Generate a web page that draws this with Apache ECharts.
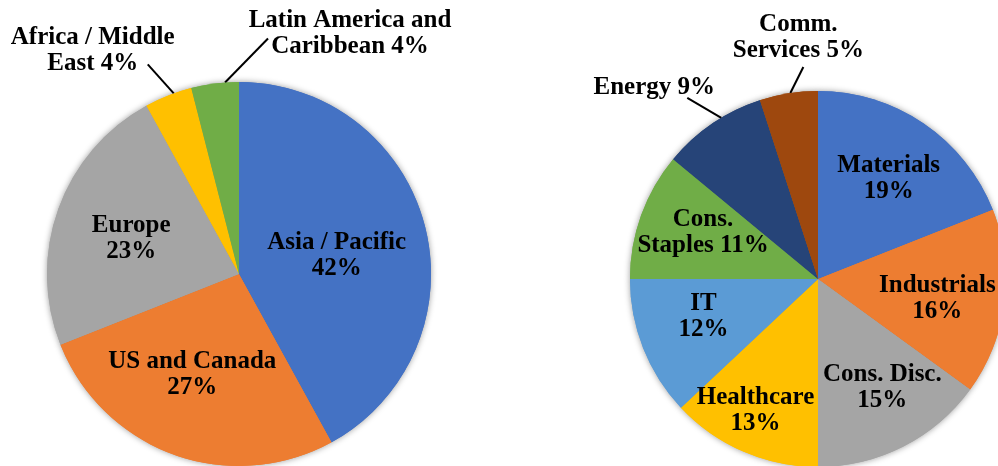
<!DOCTYPE html>
<html>
<head>
<meta charset="utf-8">
<script src="https://cdn.jsdelivr.net/npm/echarts@6/dist/echarts.min.js"></script>
<style>
  html, body { margin: 0; padding: 0; background: #ffffff; }
  #chart { width: 998px; height: 466px; }
</style>
</head>
<body>
<div id="chart"></div>
<script>
// ---- Data ----
// Regional split (left pie), percent
const regionNames = ['Asia / Pacific', 'US and Canada', 'Europe', 'Africa / Middle East', 'Latin America and Caribbean'];
const regionShares = [42, 27, 23, 4, 4];

// Sector split (right pie), percent
const sectorNames = ['Materials', 'Industrials', 'Cons. Disc.', 'Healthcare', 'IT', 'Cons. Staples', 'Energy', 'Comm. Services'];
const sectorShares = [19, 16, 15, 13, 12, 11, 9, 5];

// ---- Styling ----
const regionColors = ['#4472C4', '#ED7D31', '#A5A5A5', '#FFC000', '#70AD47'];
const sectorColors = ['#4472C4', '#ED7D31', '#A5A5A5', '#FFC000', '#5B9BD5', '#70AD47', '#264478', '#9E480E'];

const leftPie = { cx: 239, cy: 274, r: 192 };
const rightPie = { cx: 818, cy: 279, r: 188 };

// Label placement per slice.
// words: how many words of the name go on the first line (undefined = name / value on two lines, 0 = one line)
// inside labels: k = fraction of radius along the slice bisector, nudge = small pixel shift
// outside labels: at = angular position of the leader line start within the slice,
//                 line = leader line vector, text = offset of the text centre from the line end
const regionLabelPlacement = [
  { k: 0.52, nudge: [1, 6] },
  { k: 0.58, nudge: [-9, -4] },
  { k: 0.58, nudge: [-3, 2] },
  { words: 3, at: 0.62, line: [-26, -29], text: [-55, -14] },
  { words: 3, at: 0.71, line: [43, -44], text: [82, -5] }
];
const sectorLabelPlacement = [
  { k: 0.65, nudge: [2, 1] },
  { k: 0.64, nudge: [0, 4] },
  { k: 0.66, nudge: [8, -2] },
  { k: 0.77, nudge: [-5, -1] },
  { k: 0.65, nudge: [-1, -7] },
  { k: 0.65, nudge: [0, -5], words: 1 },
  { words: 0, at: 0.6, line: [-34, -20], text: [-33, -10] },
  { words: 1, at: 0.53, line: [13, -26], text: [-5, -29] }
];

const labelFont = {
  fontFamily: '"Liberation Serif", "Times New Roman", serif',
  fontWeight: 'bold',
  fontSize: 25,
  lineHeight: 26,
  color: '#000000'
};

function labelText(name, value, words) {
  const pct = value + '%';
  if (words === undefined) return name + '\n' + pct;
  if (words === 0) return name + ' ' + pct;
  const parts = name.split(' ');
  return parts.slice(0, words).join(' ') + '\n' + parts.slice(words).concat([pct]).join(' ');
}

// Clockwise angle (degrees from 12 o'clock) of a point inside a slice
function sliceAngle(values, index, frac) {
  const total = values.reduce((a, b) => a + b, 0);
  let start = 0;
  for (let i = 0; i < index; i++) start += values[i];
  return ((start + values[index] * frac) / total) * 360;
}

function polar(pie, angleDeg, dist) {
  const a = angleDeg * Math.PI / 180;
  return [pie.cx + Math.sin(a) * dist, pie.cy - Math.cos(a) * dist];
}

function makeLayout(pie, values, placement) {
  return function (params) {
    const p = placement[params.dataIndex];
    if (p.line) {
      const start = polar(pie, sliceAngle(values, params.dataIndex, p.at), pie.r);
      const end = [start[0] + p.line[0], start[1] + p.line[1]];
      return {
        x: end[0] + p.text[0],
        y: end[1] + p.text[1],
        align: 'center',
        verticalAlign: 'middle',
        labelLinePoints: [start, end, end]
      };
    }
    const pos = polar(pie, sliceAngle(values, params.dataIndex, 0.5), pie.r * p.k);
    return {
      x: pos[0] + p.nudge[0],
      y: pos[1] + p.nudge[1],
      align: 'center',
      verticalAlign: 'middle'
    };
  };
}

function buildData(names, values, colors, placement) {
  return names.map((n, i) => {
    const outside = !!placement[i].line;
    return {
      name: n,
      value: values[i],
      itemStyle: { color: colors[i] },
      label: {
        position: outside ? 'outside' : 'inside',
        formatter: labelText(n, values[i], placement[i].words)
      },
      labelLine: { show: outside }
    };
  });
}

// Soft drop shadow under each pie, drawn from the same data
function shadowSeries(pie, names, values, colors) {
  return {
    type: 'pie',
    z: 1,
    silent: true,
    center: [pie.cx, pie.cy],
    radius: pie.r,
    startAngle: 90,
    clockwise: true,
    label: { show: false },
    labelLine: { show: false },
    itemStyle: { shadowBlur: 6, shadowColor: 'rgba(0,0,0,0.4)', borderWidth: 0 },
    data: names.map((n, i) => ({ name: n, value: values[i], itemStyle: { color: colors[i] } }))
  };
}

function pieSeries(pie, names, values, colors, placement) {
  return {
    type: 'pie',
    z: 2,
    silent: true,
    center: [pie.cx, pie.cy],
    radius: pie.r,
    startAngle: 90,
    clockwise: true,
    avoidLabelOverlap: false,
    itemStyle: { borderWidth: 0 },
    label: Object.assign({ show: true }, labelFont),
    labelLine: { lineStyle: { color: '#000000', width: 2 }, length: 10, length2: 0, smooth: false },
    labelLayout: makeLayout(pie, values, placement),
    data: buildData(names, values, colors, placement)
  };
}

const chart = echarts.init(document.getElementById('chart'), null, { renderer: 'canvas' });
chart.setOption({
  backgroundColor: '#ffffff',
  animation: false,
  series: [
    shadowSeries(leftPie, regionNames, regionShares, regionColors),
    shadowSeries(rightPie, sectorNames, sectorShares, sectorColors),
    pieSeries(leftPie, regionNames, regionShares, regionColors, regionLabelPlacement),
    pieSeries(rightPie, sectorNames, sectorShares, sectorColors, sectorLabelPlacement)
  ]
});
</script>
</body>
</html>
